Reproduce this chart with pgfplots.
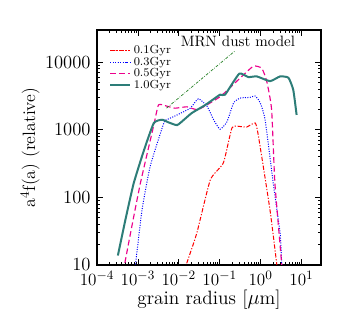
\documentclass[border=0pt]{standalone}
\usepackage{pgfplots}
\pgfplotsset{compat=1.18}
\definecolor{cteal}{RGB}{45,125,120}
\definecolor{cmrn}{RGB}{40,130,40}
\begin{document}
\begin{tikzpicture}
\useasboundingbox (-67.9pt,-43.4pt) rectangle (176.4pt,185.5pt);
\begin{axis}[
  at={(0,0)}, anchor=south west,
  scale only axis, width=156.8pt, height=164.5pt,
  xmode=log, ymode=log,
  xmin=1e-4, xmax=30, ymin=10, ymax=30000,
  xtick={1e-4,1e-3,1e-2,1e-1,1,10},
  xticklabels={$10^{-4}$,$10^{-3}$,$10^{-2}$,$10^{-1}$,$10^{0}$,$10^{1}$},
  ytick={10,100,1000,10000},
  yticklabels={10,100,1000,10000},
  tick align=inside,
  major tick length=4.5pt, minor tick length=2.2pt,
  axis line style={line width=0.8pt},
  tick style={black, line width=0.5pt},
  tick label style={font=\fontsize{13}{15}\selectfont},
  xticklabel style={yshift=-1pt},
  yticklabel style={xshift=-1pt},
  xlabel style={font=\fontsize{13.5}{15}\selectfont, yshift=4pt},
  ylabel style={font=\fontsize{12.5}{15}\selectfont, yshift=-3pt},
  xlabel={grain radius [$\mu$m]},
  ylabel={a$^4$f(a) (relative)},
  legend style={at={(0.035,0.96)}, anchor=north west, draw=none, fill=none,
    font=\fontsize{8.2}{9.5}\selectfont, row sep=-3.2pt},
  legend cell align=left,
  legend image post style={xscale=0.8},
]
\addplot[red, line width=0.7pt, smooth, tension=0.3, dash pattern=on 3pt off 1.2pt on 0.8pt off 1.2pt] coordinates {
  (1.3e-2,8)(1.51e-2,10)(2.75e-2,29.5)(5.9e-2,182)(0.123,324)(0.20,1070)(0.316,1120)
  (0.457,1100)(0.74,1260)(0.89,794)(1.70,65)(2.5,10)(2.6,8)};
\addlegendentry{0.1Gyr}
\addplot[blue, line width=0.7pt, smooth, tension=0.3, dash pattern=on 0.7pt off 1pt] coordinates {
  (8.0e-4,8)(8.7e-4,10)(1.26e-3,65)(2.0e-3,290)(4.3e-3,1260)(5.1e-3,1410)(9.1e-3,1660)
  (1.9e-2,2090)(3.0e-2,2880)(4.9e-2,2240)(7.1e-2,1410)(0.102,1020)(0.151,1320)
  (0.219,2510)(0.316,2950)(0.55,3020)(0.74,3160)(0.98,2510)(1.29,1410)(2.04,162)
  (3.0,29.5)(3.3,10)(3.35,8)};
\addlegendentry{0.3Gyr}
\addplot[magenta, line width=0.8pt, smooth, tension=0.3, dash pattern=on 4pt off 2.2pt] coordinates {
  (4.4e-4,8)(4.7e-4,10)(6.6e-4,29.5)(1.15e-3,162)(2.45e-3,1175)(3.2e-3,2340)(5.1e-3,2240)
  (8.1e-3,2090)(1.58e-2,2190)(3.0e-2,2000)(0.102,3090)(0.263,5250)(0.66,8710)
  (1.07,8130)(1.41,5250)(1.86,2000)(2.24,162)(3.3,10)(3.4,8)};
\addlegendentry{0.5Gyr}
\addplot[cteal, line width=1.4pt, smooth, tension=0.3] coordinates {
  (3.24e-4,13.8)(5.0e-4,48)(7.9e-4,162)(1.41e-3,500)(2.45e-3,1260)(3.9e-3,1410)
  (5.6e-3,1290)(9.1e-3,1175)(1.41e-2,1450)(2.1e-2,1780)(4.5e-2,2340)(0.102,3310)
  (0.135,3310)(0.30,6760)(0.50,6030)(0.81,6170)(1.70,5250)(3.0,6170)(4.8,5890)
  (6.3,3890)(7.6,1660)};
\addlegendentry{1.0Gyr}
\addplot[cmrn, line width=0.5pt, dash pattern=on 2pt off 1pt on 0.5pt off 1pt, forget plot] coordinates {
  (5.0e-3,2090)(0.24,14800)};
\node[font=\fontsize{10.5}{12}\selectfont] at (axis cs:0.28,20000) {MRN dust model};
\end{axis}
\end{tikzpicture}
\end{document}
